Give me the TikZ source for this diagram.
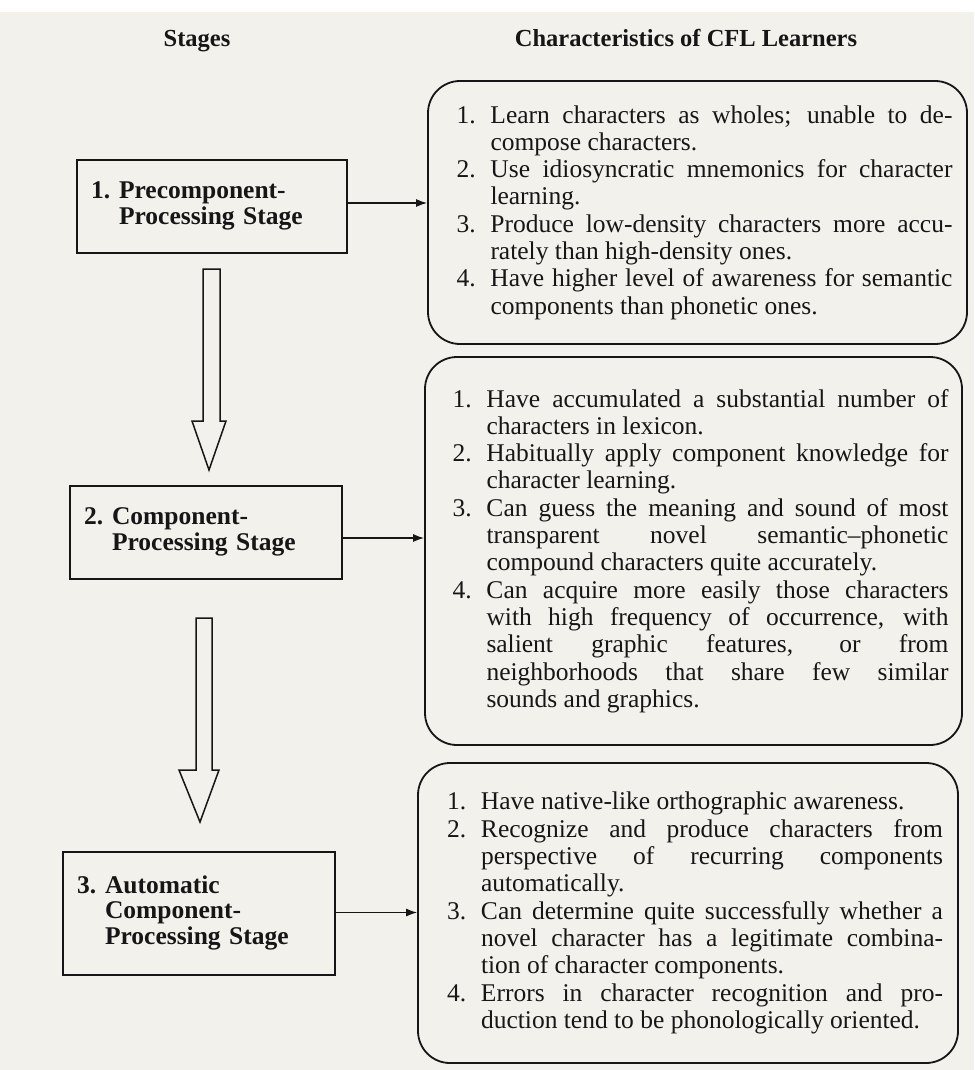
\documentclass[tikz,border=0pt]{standalone}
\usepackage{fontspec}
\setmainfont{Liberation Serif}
\usetikzlibrary{arrows.meta}
\definecolor{paper}{RGB}{242,241,236}
\definecolor{ink}{RGB}{22,22,22}
\newcommand{\charitem}[2]{{\leftskip=14pt\hangindent=34pt\hangafter=1\noindent\makebox[34pt][l]{#1}#2\par}}
\newcommand{\charlist}[1]{\parbox{510pt}{\fontsize{25.5}{27.3}\selectfont\tolerance=10000\hyphenpenalty=10000\exhyphenpenalty=10000\color{ink}#1}}
\tikzset{
  stagebox/.style={draw=ink, line width=1.8pt, rectangle, inner xsep=14pt, inner ysep=0pt,
    text width=#1, align=left, text=ink, font={\fontsize{25.5}{25.5}\selectfont\bfseries}},
  charbox/.style={draw=ink, line width=1.8pt, rectangle, rounded corners=32pt, inner sep=0pt},
  headtext/.style={anchor=base, text=ink, font={\fontsize{24.5}{24.5}\selectfont\bfseries}},
  conn/.style={draw=ink, line width=1.3pt, -{Latex[length=11pt,width=8pt]}},
  hollow/.style={draw=ink, line width=1.5pt, fill=paper, line join=miter}
}
\begin{document}
\begin{tikzpicture}[x=1pt,y=-1pt]
\useasboundingbox (0,0) rectangle (974,1070);
\fill[paper] (0,0) rectangle (974,1070);
\fill[white] (0,0) rectangle (974,12);

% headers
\node[headtext] (hstages) at (197,47) {Stages};
\node[headtext] (hchar) at (686,47) {Characteristics of CFL Learners};

% stage boxes
\node[stagebox=242pt, minimum height=93pt] (s1) at (212,206.5)
  {\begin{tabular}{@{}l@{\hspace{0.35em}}l@{}}1.&Precomponent-\\&Processing Stage\end{tabular}};
\node[stagebox=244pt, minimum height=93pt] (s2) at (206,532.5)
  {\begin{tabular}{@{}l@{\hspace{0.35em}}l@{}}2.&Component-\\&Processing Stage\end{tabular}};
\node[stagebox=244pt, minimum height=123pt] (s3) at (199,913.5)
  {\begin{tabular}{@{}l@{\hspace{0.35em}}l@{}}3.&Automatic\\&Component-\\&Processing Stage\end{tabular}};

% characteristic boxes
\node[charbox, minimum width=539pt, minimum height=263pt] (c1) at (697.5,212.5) {\charlist{%
\charitem{1.}{Learn characters as wholes; unable to de-\linebreak compose characters.}
\charitem{2.}{Use idiosyncratic mnemonics for character\linebreak learning.}
\charitem{3.}{Produce low-density characters more accu-\linebreak rately than high-density ones.}
\charitem{4.}{Have higher level of awareness for semantic\linebreak components than phonetic ones.}}};

\node[charbox, minimum width=537pt, minimum height=388pt] (c2) at (693.5,551) {\charlist{%
\charitem{1.}{Have accumulated a substantial number of\linebreak characters in lexicon.}
\charitem{2.}{Habitually apply component knowledge for\linebreak character learning.}
\charitem{3.}{Can guess the meaning and sound of most\linebreak transparent novel semantic--phonetic\linebreak compound characters quite accurately.}
\charitem{4.}{Can acquire more easily those characters\linebreak with high frequency of occurrence, with\linebreak salient graphic features, or from\linebreak neighborhoods that share few similar\linebreak sounds and graphics.}}};

\node[charbox, minimum width=540pt, minimum height=300pt] (c3) at (688,913) {\charlist{%
\charitem{1.}{Have native-like orthographic awareness.}
\charitem{2.}{Recognize and produce characters from\linebreak perspective of recurring components\linebreak automatically.}
\charitem{3.}{Can determine quite successfully whether a\linebreak novel character has a legitimate combina-\linebreak tion of character components.}
\charitem{4.}{Errors in character recognition and pro-\linebreak duction tend to be phonologically oriented.}}};

% connectors stage -> characteristics
\draw[conn] ([yshift=3.5pt]s1.east) -- ([yshift=3.5pt]s1.east -| c1.west);
\draw[conn] ([yshift=-5.5pt]s2.east) -- ([yshift=-5.5pt]s2.east -| c2.west);
\draw[conn] ([yshift=1pt]s3.east) -- ([yshift=1pt]s3.east -| c3.west);

% hollow block arrows between stages
\draw[hollow] (203,269) -- (220,269) -- (220,421) -- (226,421) -- (209,470) -- (192,421) -- (203,421) -- cycle;
\draw[hollow] (196,618) -- (212,618) -- (212,770) -- (219,770) -- (200,822) -- (179,770) -- (196,770) -- cycle;
\end{tikzpicture}
\end{document}
